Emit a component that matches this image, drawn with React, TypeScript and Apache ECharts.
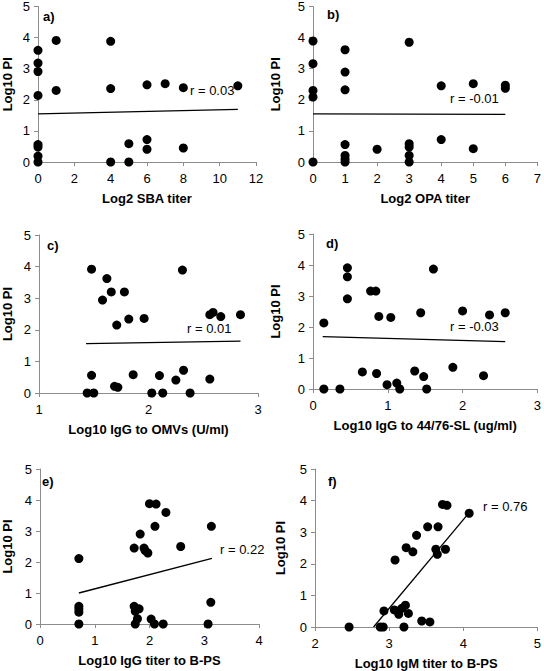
import React, { useEffect, useRef } from "react";
import * as echarts from "echarts";

// Panel a) Log2 SBA titer
const aX = [0, 0, 0, 0, 0, 0, 0, 0, 1, 1, 4, 4, 4, 5, 5, 6, 6, 6, 7, 8, 8, 11];
const aY = [3.59, 3.18, 2.91, 2.14, 0.56, 0.48, 0.19, 0, 3.91, 2.3, 3.88, 2.36, 0, 0.59, 0, 2.48, 0.72, 0.41, 2.52, 2.39, 0.45, 2.45];
const aFit = [[0, 1.55], [11, 1.69]];

// Panel b) Log2 OPA titer
const bX = [0, 0, 0, 0, 0, 1, 1, 1, 1, 1, 1, 1, 2, 3, 3, 3, 3, 3, 4, 4, 5, 5, 6, 6];
const bY = [3.89, 3.16, 2.3, 2.09, 0, 3.61, 2.89, 2.32, 0.56, 0.21, 0.1, 0, 0.41, 3.85, 0.59, 0.48, 0.21, 0, 2.45, 0.72, 2.52, 0.43, 2.47, 2.37];
const bFit = [[0, 1.55], [6, 1.53]];

// Panel c) Log10 IgG to OMVs
const cX = [1.48, 1.62, 1.58, 1.66, 1.78, 1.71, 1.82, 1.96, 2.31, 2.56, 2.59, 2.66, 2.84, 1.48, 1.44, 1.5, 1.69, 1.72, 1.86, 2.03, 2.1, 2.13, 2.25, 2.32, 2.38, 2.56];
const cY = [3.92, 3.62, 2.94, 3.2, 3.2, 2.15, 2.34, 2.36, 3.89, 2.48, 2.55, 2.42, 2.48, 0.56, 0, 0, 0.21, 0.18, 0.58, 0, 0.55, 0, 0.41, 0.72, 0, 0.44];
const cFit = [[1.43, 1.56], [2.84, 1.64]];

// Panel d) Log10 IgG to 44/76-SL
const dX = [0.145, 0.145, 0.36, 0.46, 0.46, 0.46, 0.66, 0.77, 0.84, 0.85, 0.88, 0.99, 1.04, 1.12, 1.16, 1.36, 1.44, 1.48, 1.52, 1.61, 1.87, 2.0, 2.28, 2.36, 2.57];
const dY = [2.13, 0, 0, 3.91, 3.62, 2.91, 0.55, 3.16, 3.16, 0.5, 2.34, 0.14, 2.31, 0.19, 0, 0.58, 2.46, 0.4, 0, 3.87, 0.7, 2.52, 0.43, 2.39, 2.46];
const dFit = [[0.13, 1.69], [2.57, 1.53]];

// Panel e) Log10 IgG titer to B-PS
const eX = [0.71, 0.71, 0.71, 0.71, 0.71, 1.72, 1.83, 1.9, 1.92, 1.97, 2.0, 2.12, 2.3, 2.1, 2.57, 3.13, 3.12, 3.07, 1.72, 1.74, 1.81, 1.78, 1.74, 2.03, 2.09, 2.25];
const eY = [2.11, 0.57, 0.48, 0.38, 0, 2.45, 2.9, 2.45, 2.37, 2.29, 3.88, 3.87, 3.6, 3.15, 2.5, 3.15, 0.7, 0, 0.57, 0.41, 0.49, 0.17, 0, 0.16, 0, 0];
const eFit = [[0.71, 1.0], [3.14, 2.12]];

// Panel f) Log10 IgM titer to B-PS
const fX = [2.46, 2.88, 2.92, 2.93, 3.07, 3.13, 3.17, 3.22, 3.26, 3.2, 3.44, 3.55, 3.08, 3.23, 3.32, 3.37, 3.52, 3.66, 3.63, 3.65, 3.76, 3.72, 3.78, 4.08];
const fY = [0, 0, 0, 0.51, 0.54, 0.4, 0.59, 0.69, 0.43, 0, 0.19, 0.16, 2.12, 2.51, 2.38, 2.9, 3.17, 3.17, 2.46, 2.3, 2.46, 3.88, 3.85, 3.6];
const fFit = [[2.79, 0], [4.08, 3.62]];

const panelLabels = ["a)", "b)", "c)", "d)", "e)", "f)"];
const rLabels = ["r = 0.03", "r = -0.01", "r = 0.01", "r = -0.03", "r = 0.22", "r = 0.76"];
const xNames = [
  "Log2 SBA titer",
  "Log2 OPA titer",
  "Log10 IgG to OMVs (U/ml)",
  "Log10 IgG to 44/76-SL (ug/ml)",
  "Log10 IgG titer to B-PS",
  "Log10 IgM titer to B-PS",
];
const xMins = [0, 0, 1, 0, 0, 2];
const xMaxs = [12, 7, 3, 3, 4, 5];
const xIntervals = [2, 1, 1, 1, 1, 1];
const yName = "Log10 PI";

const FONT = "'Liberation Sans', Arial, sans-serif";

export default function App() {
  const ref = useRef<HTMLDivElement>(null);
  useEffect(() => {
    if (!ref.current) return;
    const chart = echarts.init(ref.current, null, { renderer: "svg" });
    const xs = [aX, bX, cX, dX, eX, fX];
    const ys = [aY, bY, cY, dY, eY, fY];
    const fits = [aFit, bFit, cFit, dFit, eFit, fFit];
    const grids = [
      { left: 32, top: 6, width: 224, height: 156 },
      { left: 313, top: 6, width: 227, height: 156 },
      { left: 35, top: 235, width: 223, height: 158 },
      { left: 313, top: 234, width: 227, height: 155 },
      { left: 32, top: 469, width: 227, height: 155 },
      { left: 315, top: 469, width: 225, height: 160 },
    ];
    const yGaps = [24, 31, 25, 31, 26, 28];
    const xGaps = [30, 30, 30, 30, 30, 30];
    const axisLine = { show: true, lineStyle: { color: "#8c8c8c", width: 1 } };
    const axisTick = { show: true, length: 4, lineStyle: { color: "#8c8c8c" } };
    const labelStyle = { color: "#000", fontSize: 13, fontFamily: FONT };
    const nameStyle = { color: "#000", fontSize: 13, fontWeight: "bold" as const, fontFamily: FONT };

    const xAxis = grids.map((_, i) => ({
      type: "value",
      gridIndex: i,
      min: xMins[i],
      max: xMaxs[i],
      interval: xIntervals[i],
      name: xNames[i],
      nameLocation: "middle",
      nameGap: xGaps[i],
      nameTextStyle: nameStyle,
      axisLine,
      axisTick,
      axisLabel: { ...labelStyle, margin: 10 },
      splitLine: { show: false },
    }));
    const yAxis = grids.map((_, i) => ({
      type: "value",
      gridIndex: i,
      min: 0,
      max: 5,
      interval: 1,
      name: yName,
      nameLocation: "middle",
      nameGap: yGaps[i],
      nameTextStyle: nameStyle,
      axisLine,
      axisTick,
      axisLabel: { ...labelStyle, margin: 8 },
      splitLine: { show: false },
    }));
    const series: any[] = [];
    grids.forEach((_, i) => {
      series.push({
        type: "scatter",
        xAxisIndex: i,
        yAxisIndex: i,
        symbol: "circle",
        symbolSize: 9,
        itemStyle: { color: "#000", opacity: 1 },
        data: xs[i].map((x, k) => [x, ys[i][k]]),
      });
      series.push({
        type: "line",
        xAxisIndex: i,
        yAxisIndex: i,
        symbol: "none",
        lineStyle: { color: "#000", width: 1.3 },
        data: fits[i],
      });
    });
    const labelPos = [
      [43, 18], [327, 16], [47, 247], [326, 245], [42, 483], [328, 483],
    ];
    const rPos = [
      [190, 92], [450, 100], [187, 330], [450, 328], [220, 551], [483, 508],
    ];
    const graphic: any[] = [];
    panelLabels.forEach((t, i) => {
      graphic.push({
        type: "text",
        left: labelPos[i][0],
        top: labelPos[i][1] - 8,
        style: { text: t, fill: "#000", font: `bold 13px ${FONT}` },
      });
    });
    rLabels.forEach((t, i) => {
      graphic.push({
        type: "text",
        left: rPos[i][0],
        top: rPos[i][1] - 8,
        style: { text: t, fill: "#000", font: `13px ${FONT}` },
      });
    });
    chart.setOption({
      animation: false,
      backgroundColor: "#fff",
      grid: grids.map((g) => ({ ...g, containLabel: false })),
      xAxis,
      yAxis,
      series,
      graphic,
    });
    return () => chart.dispose();
  }, []);
  return (
    <div
      ref={ref}
      style={{ position: "fixed", left: 0, top: 0, width: 544, height: 671, background: "#fff" }}
    />
  );
}
